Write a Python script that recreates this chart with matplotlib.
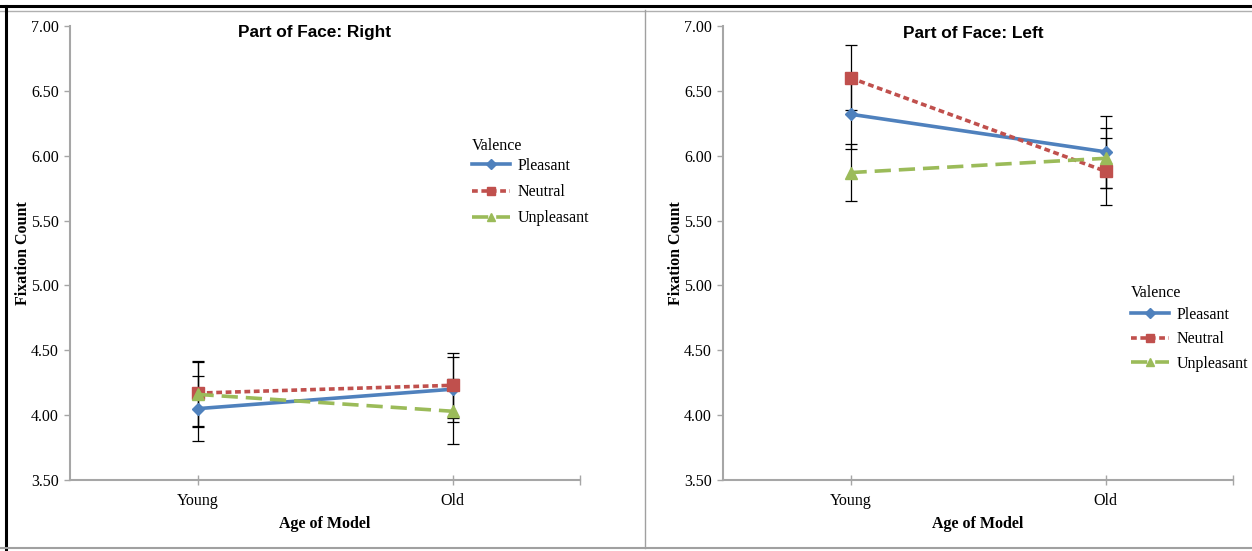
import matplotlib
matplotlib.use("Agg")
import matplotlib.pyplot as plt
from matplotlib.lines import Line2D

W, H = 1252, 551

categories = ["Young", "Old"]
series_names = ["Pleasant", "Neutral", "Unpleasant"]

# Panel 1: Part of Face: Right
right_vals = {
    "Pleasant": [4.05, 4.20],
    "Neutral": [4.17, 4.23],
    "Unpleasant": [4.16, 4.03],
}
right_err = {
    "Pleasant": [0.25, 0.25],
    "Neutral": [0.25, 0.25],
    "Unpleasant": [0.25, 0.25],
}
# Panel 2: Part of Face: Left
left_vals = {
    "Pleasant": [6.32, 6.03],
    "Neutral": [6.60, 5.88],
    "Unpleasant": [5.87, 5.98],
}
left_err = {
    "Pleasant": [0.27, 0.28],
    "Neutral": [0.25, 0.26],
    "Unpleasant": [0.22, 0.23],
}
yticks = [3.5, 4.0, 4.5, 5.0, 5.5, 6.0, 6.5, 7.0]

styles = {
    "Pleasant": dict(color="#4F81BD", ls="-", marker="D", ms=6.5),
    "Neutral": dict(color="#C0504D", ls=(0, (1.6, 1.0)), marker="s", ms=8),
    "Unpleasant": dict(color="#9BBB59", ls=(0, (4.5, 2.2)), marker="^", ms=8.5),
}

serif = ["Liberation Serif", "DejaVu Serif"]
sans = ["Liberation Sans", "DejaVu Sans"]
FS = 11.5

fig = plt.figure(figsize=(W / 100, H / 100), dpi=100)


def fx(px):
    return px / W


def fy(py):
    return 1 - py / H


def make_panel(x0, x1, title, title_x, vals, errs, leg_title_xy, leg_top, leg_space):
    ax = fig.add_axes([fx(x0), fy(480), fx(x1) - fx(x0), fy(26) - fy(480)])
    xs = [0.5, 1.5]
    for name in series_names:
        ax.errorbar(xs, vals[name], yerr=errs[name], fmt="none", ecolor="black",
                    elinewidth=0.9, capsize=4, capthick=0.9, zorder=2)
    for name in series_names:
        st = styles[name]
        ax.plot(xs, vals[name], color=st["color"], ls=st["ls"], lw=2.6,
                marker=st["marker"], ms=st["ms"], mec=st["color"], mfc=st["color"],
                label=name, zorder=3)
    ax.set_xlim(0, 2)
    ax.set_ylim(3.5, 7.0)
    ax.set_yticks(yticks)
    ax.set_yticklabels([f"{v:.2f}" for v in yticks], fontfamily=serif, fontsize=FS)
    ax.set_xticks(xs)
    ax.set_xticklabels(categories, fontfamily=serif, fontsize=FS)
    ax.set_xticks([2.0], minor=True)
    for s in ["top", "right"]:
        ax.spines[s].set_visible(False)
    for s in ["left", "bottom"]:
        ax.spines[s].set_color("#A6A6A6")
        ax.spines[s].set_linewidth(1.5)
    ax.tick_params(axis="y", direction="out", length=4, color="#A6A6A6", width=1, pad=4)
    ax.tick_params(axis="x", which="both", direction="inout", length=7, color="#A6A6A6", width=1, pad=6)
    ax.set_ylabel("Fixation Count", fontfamily=serif, fontsize=FS, fontweight="bold", va="center")
    ax.yaxis.set_label_coords((23 - 70) / 510, 0.5)
    ax.set_xlabel("Age of Model", fontfamily=serif, fontsize=FS, fontweight="bold", va="center")
    ax.xaxis.set_label_coords(0.5, (480 - 524) / 454)
    ax.text(title_x, (480 - 33) / 454, title, transform=ax.transAxes, ha="center", va="center",
            fontfamily=sans, fontsize=12.4, fontweight="bold")
    # legend title
    fig.text(fx(leg_title_xy[0]), fy(leg_title_xy[1]), "Valence", ha="left", va="center",
             fontfamily=serif, fontsize=FS)
    ax.legend(loc="upper left", bbox_to_anchor=(fx(leg_title_xy[0]), fy(leg_top)),
              bbox_transform=fig.transFigure, frameon=False, borderpad=0,
              prop={"family": serif, "size": FS},
              handlelength=2.4, handletextpad=0.45, labelspacing=leg_space,
              borderaxespad=0, markerscale=0.75)
    return ax


make_panel(70, 580, "Part of Face: Right", 0.479, right_vals, right_err, (472, 146), 158, 0.64)
make_panel(723, 1233, "Part of Face: Left", 0.49, left_vals, left_err, (1131, 293), 307, 0.52)

# frame lines
fig.add_artist(Line2D([fx(0), fx(W)], [fy(6), fy(6)], color="black", lw=2.2))
fig.add_artist(Line2D([fx(0), fx(W)], [fy(10.5), fy(10.5)], color="#B0B0B0", lw=1))
fig.add_artist(Line2D([fx(6), fx(6)], [fy(6), fy(H)], color="black", lw=2.2))
fig.add_artist(Line2D([fx(0), fx(W)], [fy(548), fy(548)], color="#A0A0A0", lw=1.5))
fig.add_artist(Line2D([fx(645), fx(645)], [fy(10), fy(548)], color="#A0A0A0", lw=1))

fig.savefig("out.png", dpi=100)
